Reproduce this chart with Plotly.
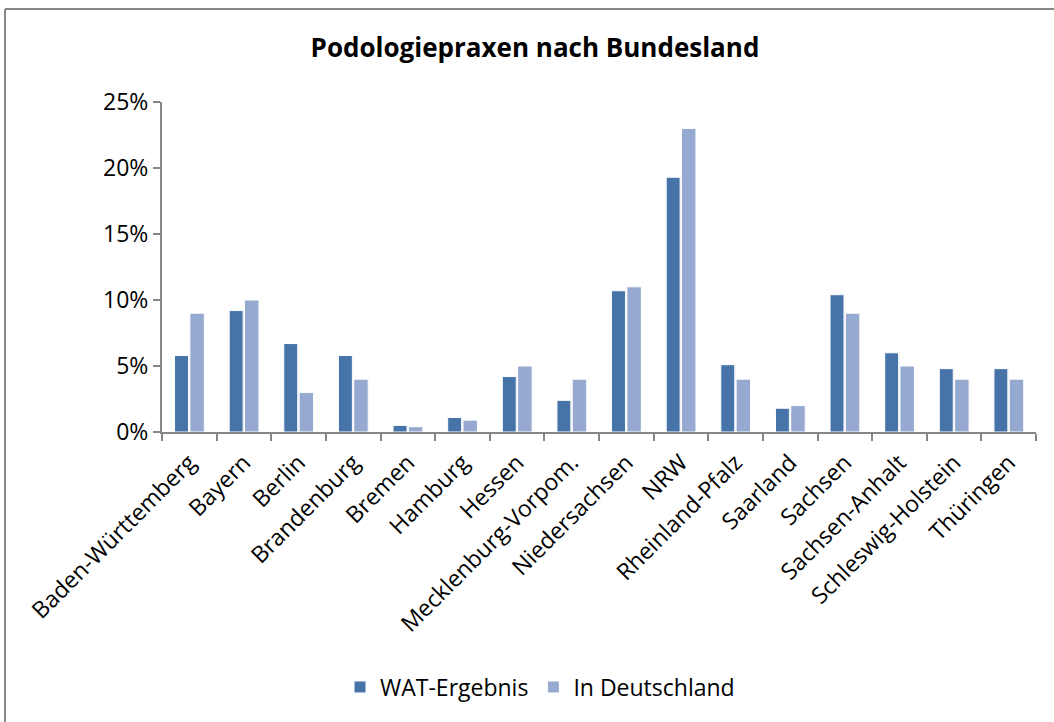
import plotly.graph_objects as go

categories = ["Baden-Württemberg", "Bayern", "Berlin", "Brandenburg", "Bremen", "Hamburg",
              "Hessen", "Mecklenburg-Vorpom.", "Niedersachsen", "NRW", "Rheinland-Pfalz",
              "Saarland", "Sachsen", "Sachsen-Anhalt", "Schleswig-Holstein", "Thüringen"]
wat_ergebnis = [0.058, 0.092, 0.067, 0.058, 0.005, 0.011, 0.042, 0.024, 0.107, 0.193,
                0.051, 0.018, 0.104, 0.060, 0.048, 0.048]
in_deutschland = [0.09, 0.10, 0.03, 0.04, 0.004, 0.009, 0.05, 0.04, 0.11, 0.23,
                  0.04, 0.02, 0.09, 0.05, 0.04, 0.04]
series_names = ["WAT-Ergebnis", "In Deutschland"]
y_ticks = [0, 0.05, 0.10, 0.15, 0.20, 0.25]

DARK = "#4673a8"
LIGHT = "#96aad1"
AXIS = "#868686"
FONT = "Open Sans"
FS = 23

fig = go.Figure()

# faint drop shadows
for vals, off in [(wat_ergebnis, -0.255), (in_deutschland, 0.025)]:
    fig.add_trace(go.Bar(x=categories, y=vals, offset=off, width=0.255,
                         marker=dict(color="rgba(0,0,0,0.10)", line=dict(width=0)),
                         showlegend=False, hoverinfo="skip"))

fig.add_trace(go.Bar(name=series_names[0], x=categories, y=wat_ergebnis, offset=-0.27, width=0.255,
                     marker=dict(color=DARK, line=dict(color="white", width=1))))
fig.add_trace(go.Bar(name=series_names[1], x=categories, y=in_deutschland, offset=0.01, width=0.265,
                     marker=dict(color=LIGHT, line=dict(color="white", width=1))))

L, R, T, B = 162, 18, 102, 290
W, H = 1054, 722
pw, ph = W - L - R, H - T - B

def px_x(p):
    return (p - L) / pw

def px_y(p):
    return (H - B - p) / ph

fig.update_layout(
    width=W, height=H,
    margin=dict(l=L, r=R, t=T, b=B),
    paper_bgcolor="white", plot_bgcolor="white",
    barmode="overlay",
    font=dict(family=FONT, size=FS, color="#000000"),
    title=dict(text="<b>Podologiepraxen nach Bundesland</b>", x=535 / W, xanchor="center",
               y=1 - 48 / H, yanchor="middle", font=dict(family=FONT, size=26, color="#000000")),
    legend=dict(orientation="h", x=px_x(540), xanchor="center", y=px_y(687), yanchor="middle",
                font=dict(family=FONT, size=FS), itemwidth=30, tracegroupgap=0),
    xaxis=dict(type="category", showline=True, linecolor=AXIS, linewidth=2,
               ticks="outside", tickson="boundaries", ticklen=7, tickcolor=AXIS, tickwidth=2,
               tickangle=-45, showgrid=False, range=[-0.5, 15.5], ticklabelstandoff=6,
               tickfont=dict(family=FONT, size=FS)),
    yaxis=dict(range=[0, 0.25], tickvals=y_ticks, tickformat=".0%", showline=True,
               linecolor=AXIS, linewidth=2, ticks="outside", ticklen=7, tickcolor=AXIS,
               tickwidth=2, showgrid=False, zeroline=False,
               tickfont=dict(family=FONT, size=FS)),
    shapes=[
        dict(type="line", xref="paper", yref="paper", x0=px_x(5), x1=px_x(5),
             y0=px_y(9), y1=px_y(730), line=dict(color=AXIS, width=2)),
        dict(type="line", xref="paper", yref="paper", x0=px_x(5), x1=px_x(1060),
             y0=px_y(9), y1=px_y(9), line=dict(color=AXIS, width=2)),
    ],
)

fig.write_html("out.html", config={"displayModeBar": False},
               post_script="document.body.style.margin='0';document.body.style.overflow='hidden';")
